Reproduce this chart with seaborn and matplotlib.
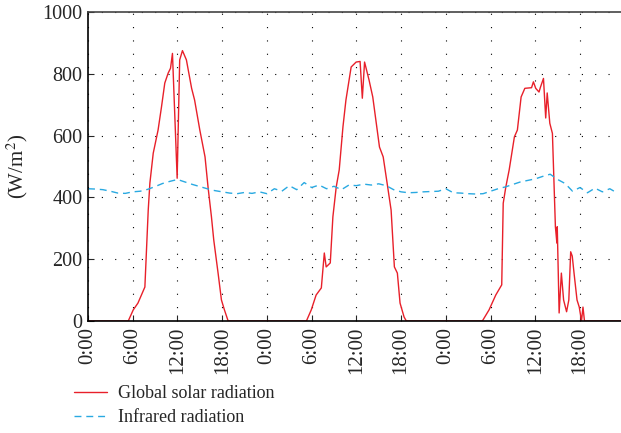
import numpy as np
import pandas as pd
import matplotlib
matplotlib.use('Agg')
import matplotlib.pyplot as plt
import seaborn as sns

# Global solar radiation (hours from start, W/m2)
hora_sol = [0, 5.4, 6.07, 6.7, 7.63, 8.08, 8.3, 8.75, 9.4, 9.86, 10.3, 10.75, 11.07, 11.33,
            11.96, 12.3, 12.67, 13.2, 13.9, 14.3, 15.0, 15.7, 16.1, 16.56, 16.87, 17.45,
            17.9, 18.3, 18.8,
            29.3, 29.95, 30.6, 31.3, 31.7, 31.95, 32.5, 32.85, 33.3, 33.7, 34.2, 34.6, 35.3,
            35.97, 36.5, 36.8, 37.1, 37.7, 38.2, 39.1, 39.6, 40.2, 40.66, 41.1, 41.5, 41.86,
            42.4, 42.7,
            52.9, 53.8, 54.7, 55.5, 55.7, 56.05, 56.5, 57.2, 57.6, 58.1, 58.6, 59.5, 59.75,
            60.06, 60.5, 60.7, 61.1, 61.4, 61.6, 61.95, 62.3, 62.7, 62.9, 62.95, 63.2, 63.5,
            63.8, 64.2, 64.5, 64.75, 64.96, 65.2, 65.6, 65.9, 66.2, 66.4, 66.6, 71.5]
global_sol = [0, 0, 36, 58, 110, 359, 446, 543, 618, 693, 770, 802, 818, 866,
              462, 845, 875, 845, 753, 715, 618, 531, 434, 337, 262, 155,
              68, 36, 0,
              0, 36, 84, 107, 220, 175, 188, 337, 434, 489, 628, 715, 822,
              838, 840, 721, 838, 780, 725, 563, 531, 434, 359, 175, 155, 58,
              13, 0,
              0, 36, 84, 117, 381, 434, 489, 596, 618, 725, 753, 755, 774,
              753, 741, 757, 785, 657, 738, 640, 607, 305, 252, 305, 26, 155,
              68, 30, 68, 224, 210, 155, 68, 45, 0, 45, 0, 0]

# Infrared radiation (hourly)
hora_ir = list(range(72))
infravermelho = [428, 427, 425, 420, 414, 413, 418, 420, 426, 435, 445, 452, 458, 450, 442,
                 435, 428, 422, 418, 414, 412, 416, 413, 418, 412, 428, 420, 438, 425, 448,
                 432, 440, 428, 436, 425, 440, 438, 443, 440, 444, 438, 425, 418, 415, 416,
                 418, 419, 420, 428, 415, 414, 412, 411, 412, 420, 428, 434, 442, 450, 455,
                 460, 468, 475, 458, 445, 420, 432, 415, 430, 418, 428, 414]

ticks_x = list(range(0, 72, 6))
rotulos_x = ['0:00', '6:00', '12:00', '18:00'] * 3

sns.set_style('white')
plt.rcParams['font.family'] = ['Liberation Serif', 'DejaVu Serif']
plt.rcParams['mathtext.fontset'] = 'stix'

fig = plt.figure(figsize=(6.21, 4.33), dpi=100)
ax = fig.add_axes([88/621, 1-321/433, 1-88/621, (321-12)/433])

sns.lineplot(x=hora_sol, y=global_sol, ax=ax, color='#e8202a', linewidth=1.0,
             label='Global solar radiation', sort=False, estimator=None)
sns.lineplot(x=hora_ir, y=infravermelho, ax=ax, color='#29a9e1', linewidth=1.0,
             label='Infrared radiation', sort=False, estimator=None)
ax.lines[1].set_dashes([5, 3.5])

ax.set_xlim(0, 71.5)
ax.set_ylim(0, 1000)
ax.set_xticks(ticks_x)
ax.set_xticklabels(rotulos_x, rotation=90, fontsize=15)
ax.set_yticks(np.arange(0, 1001, 200))
ax.tick_params(axis='y', labelsize=14.5, direction='in', length=4, pad=4, left=True)
ax.tick_params(axis='x', direction='in', length=4, pad=4, bottom=True)
ax.grid(True, color='black', linestyle=(0, (1, 11)), linewidth=0.8)
ax.set_ylabel('(W/m$^2$)', fontsize=15)
ax.yaxis.set_label_coords(-0.108, 0.5)

for lado in ['left', 'bottom']:
    ax.spines[lado].set_color('black')
    ax.spines[lado].set_linewidth(1.2)
ax.spines['top'].set_color('#444444')
ax.spines['top'].set_linewidth(1.2)
ax.spines['right'].set_visible(False)

ax.legend(loc='upper left', bbox_to_anchor=(74/621, 1-385/433), bbox_transform=fig.transFigure,
          frameon=False, fontsize=13, handlelength=1.8, handletextpad=0.65,
          labelspacing=0.4, borderpad=0, borderaxespad=0)

fig.savefig('out.png', dpi=100)
